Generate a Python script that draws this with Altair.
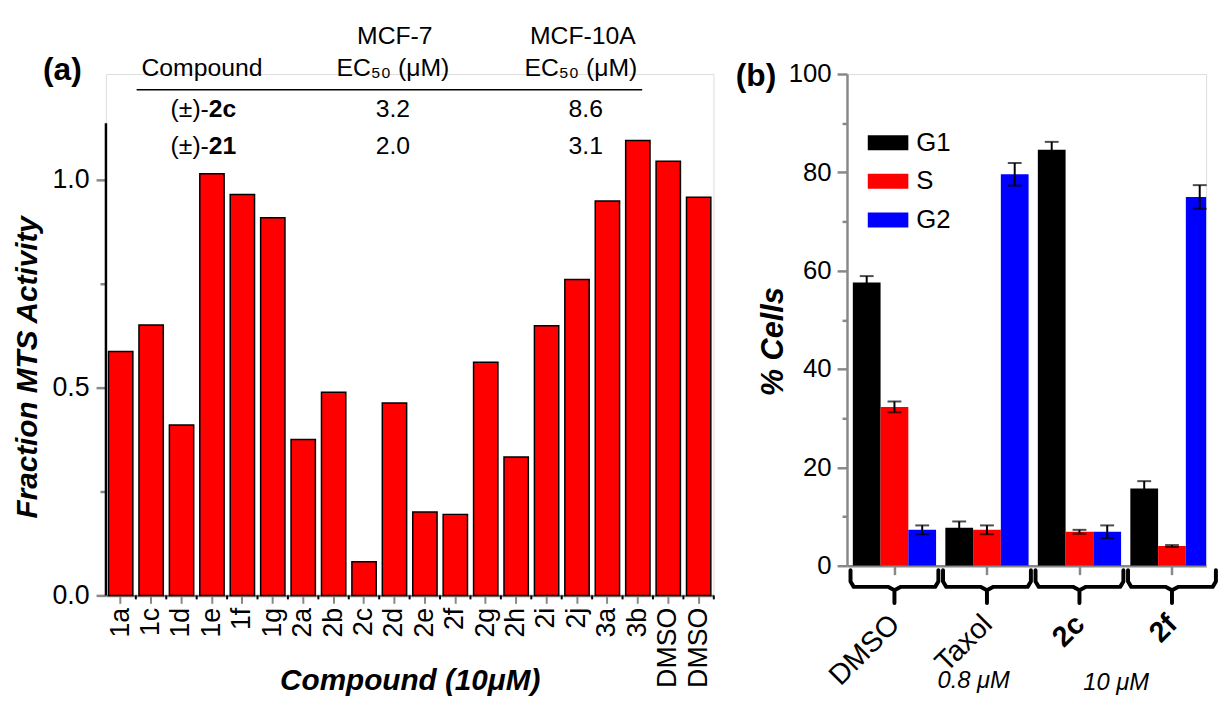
import altair as alt
import pandas as pd

FONT = "Liberation Sans"

# ---------------- Panel (a) data ----------------
compounds = ["1a", "1c", "1d", "1e", "1f", "1g", "2a", "2b", "2c", "2d",
             "2e", "2f", "2g", "2h", "2i", "2j", "3a", "3b", "DMSO", "DMSO"]
mts_activity = [0.587, 0.651, 0.410, 1.015, 0.965, 0.909, 0.375, 0.489, 0.081, 0.463,
                0.201, 0.195, 0.561, 0.333, 0.649, 0.760, 0.949, 1.095, 1.045, 0.958]
a_axis_top = 1.136

table_compounds = ["2c", "21"]
mcf7_ec50 = ["3.2", "2.0"]
mcf10a_ec50 = ["8.6", "3.1"]

# ---------------- Panel (b) data ----------------
treatments = ["DMSO", "Taxol", "2c", "2f"]
phases = ["G1", "S", "G2"]
g1_pct = [57.6, 7.7, 84.6, 15.7]
g1_err = [1.3, 1.3, 1.6, 1.5]
s_pct = [32.3, 7.3, 6.9, 4.0]
s_err = [1.1, 0.9, 0.4, 0.2]
g2_pct = [7.3, 79.6, 6.9, 75.0]
g2_err = [0.9, 2.3, 1.3, 2.4]
phase_colors = ["#000000", "#ff0000", "#0000ff"]
conc_labels = ["0.8 μM", "10 μM"]

# brace shape (offset from group centre, value below the axis)
brace_dx = [-0.475, -0.475, -0.44, -0.07, 0.0, 0.0, 0.0, 0.07, 0.44, 0.475, 0.475]
brace_dy = [-0.9, -3.2, -4.3, -4.3, -5.0, -7.6, -5.0, -4.3, -4.3, -3.2, -0.9]

# ---------------- layout ----------------
WA, HA = 614, 527
YMAX_A = HA / 420.0
WB, HB = 363, 497
XB_DOMAIN = [-0.513, -0.513 + WB / 93.5]
BAR_STEP = 0.3
HALF = 0.15
SPACING = 135
B_OFFSET = WA + SPACING


def txt(s, x, y, size=25, weight="normal", style="normal", align="center"):
    return alt.Chart(pd.DataFrame({"t": [s]})).mark_text(
        font=FONT, fontSize=size, fontWeight=weight, fontStyle=style,
        align=align, baseline="middle", color="black"
    ).encode(text="t:N", x=alt.value(x), y=alt.value(y))


# ================= Panel (a) =================
dfa = pd.DataFrame({"idx": list(range(len(compounds))), "label": compounds, "value": mts_activity})
label_expr = "[" + ",".join(f"'{c}'" for c in compounds) + "][datum.value]"

xscale_a = alt.Scale(paddingInner=0.2, paddingOuter=0.085)
yscale_a = alt.Scale(domain=[0, YMAX_A], nice=False, zero=True)

xa = alt.X("idx:O", scale=xscale_a, axis=alt.Axis(
    labelExpr=label_expr, labelAngle=-90, labelAlign="right", labelBaseline="middle",
    labelFontSize=27, labelPadding=4, tickSize=8, tickWidth=2, domainWidth=2.5, grid=False,
    title="Compound (10μM)", titleFontSize=30, titleFontStyle="italic", titleFontWeight="bold",
    titleX=307, titleY=86, titleBaseline="middle", titleAlign="center"))

ya = alt.Y("value:Q", scale=yscale_a, axis=alt.Axis(
    values=[0, 0.25, 0.5, 0.75, 1.0], format=".1f", grid=False,
    labelExpr="datum.value % 0.5 == 0 ? datum.label : ''",
    domain=False, tickSize={"condition": {"test": "datum.value % 0.5 == 0", "value": 10}, "value": 6},
    tickWidth=2.5, labelFontSize=27, labelPadding=7,
    title="Fraction MTS Activity", titleFontSize=30, titleFontStyle="italic", titleFontWeight="bold",
    titleX=-79, titleY=296, titleBaseline="middle", titleAlign="center", titleAngle=270))

bars_a = alt.Chart(dfa).mark_bar(color="#ff0000", stroke="black", strokeWidth=1.5).encode(x=xa, y=ya)

minor_a = alt.Chart(dfa).mark_rule(color="black", strokeWidth=2, xOffset=3).encode(
    x=alt.X("idx:O", bandPosition=1, title="Compound (10μM)"),
    y=alt.value(HA), y2=alt.value(HA + 4))

yline_a = alt.Chart(pd.DataFrame({"d": [0]})).mark_rule(color="black", strokeWidth=2.5).encode(
    x=alt.value(0), y=alt.datum(0), y2=alt.datum(a_axis_top))

table_layers = [
    txt("(a)", -44, -4, size=32, weight="bold"),
    txt("Compound", 97, -6),
    txt("MCF-7", 292, -38),
    txt("EC₅₀ (μM)", 290, -6),
    txt("MCF-10A", 482, -38),
    txt("EC₅₀ (μM)", 480, -6),
    alt.Chart(pd.DataFrame({"d": [0]})).mark_rule(color="black", strokeWidth=1.5).encode(
        x=alt.value(31), x2=alt.value(542), y=alt.value(16)),
]
row_y = [35, 73]
for i in range(len(table_compounds)):
    table_layers += [
        txt("(±)-", 104, row_y[i], align="right"),
        txt(table_compounds[i], 104, row_y[i], weight="bold", align="left"),
        txt(mcf7_ec50[i], 290, row_y[i]),
        txt(mcf10a_ec50[i], 485, row_y[i]),
    ]

panel_a = alt.layer(bars_a, minor_a, yline_a, *table_layers).properties(width=WA, height=HA)

# ================= Panel (b) =================
rows = []
for gi, t in enumerate(treatments):
    for pi_, (ph, vals, errs) in enumerate(zip(phases, [g1_pct, s_pct, g2_pct], [g1_err, s_err, g2_err])):
        c = gi + (pi_ - 1) * BAR_STEP
        rows.append(dict(treat=t, phase=ph, x=c, x0=c - HALF, x1=c + HALF, v=vals[gi],
                         lo=vals[gi] - errs[gi], hi=vals[gi] + errs[gi]))
dfb = pd.DataFrame(rows)

brace_rows = []
for gi, t in enumerate(treatments):
    for k, (dx, dy) in enumerate(zip(brace_dx, brace_dy)):
        brace_rows.append(dict(treat=t, k=k, bx=gi + dx, by=dy))
dfbr = pd.DataFrame(brace_rows)

xscale_b = alt.Scale(domain=XB_DOMAIN, nice=False, zero=False)
yscale_b = alt.Scale(domain=[0, 100], nice=False)
names_expr = "[" + ",".join(f"'{t}'" for t in treatments) + "][datum.value]"
YB_TITLE = "% Cells"

xb_axis = alt.Axis(values=[0, 1, 2, 3], labelExpr=names_expr, labelAngle=-45, labelAlign="right",
                   labelBaseline="middle", labelFontSize=29, labelPadding=45, tickSize=9, tickWidth=2.5,
                   domainWidth=2.5, title=None, grid=False,
                   labelFontWeight={"condition": {"test": "datum.value >= 2", "value": "bold"}, "value": "normal"})
yb_axis = alt.Axis(values=list(range(0, 101, 10)), grid=False,
                   labelExpr="datum.value % 20 == 0 ? datum.label : ''",
                   tickSize={"condition": {"test": "datum.value % 20 == 0", "value": 10}, "value": 5},
                   tickWidth=2.5, domainWidth=2.5, labelFontSize=26, labelPadding=6,
                   title=YB_TITLE, titleFontSize=31, titleFontStyle="italic", titleFontWeight="bold",
                   titleX=-74, titleY=270, titleBaseline="middle", titleAlign="center", titleAngle=270)

bars_b = alt.Chart(dfb).mark_bar(clip=True).encode(
    x=alt.X("x0:Q", scale=xscale_b, axis=xb_axis),
    x2="x1:Q",
    y=alt.Y("v:Q", scale=yscale_b, axis=yb_axis),
    y2=alt.datum(0),
    color=alt.Color("phase:N", scale=alt.Scale(domain=phases, range=phase_colors),
                    legend=alt.Legend(title=None, orient="none", legendX=B_OFFSET + 21, legendY=49,
                                      symbolType="M-1,-0.37L1,-0.37L1,0.37L-1,0.37Z",
                                      symbolSize=1681, symbolStrokeWidth=0, labelFontSize=26,
                                      labelFont=FONT, labelColor="black", labelOffset=8,
                                      rowPadding=5)))

err_rule = alt.Chart(dfb).mark_rule(color="black", strokeWidth=2).encode(
    x=alt.X("x:Q", title=None), y=alt.Y("lo:Q", title=YB_TITLE), y2="hi:Q")
cap_hi = alt.Chart(dfb).mark_tick(color="black", thickness=2, size=14, orient="horizontal").encode(
    x=alt.X("x:Q", title=None), y=alt.Y("hi:Q", title=YB_TITLE))
cap_lo = alt.Chart(dfb).mark_tick(color="black", thickness=2, size=14, orient="horizontal").encode(
    x=alt.X("x:Q", title=None), y=alt.Y("lo:Q", title=YB_TITLE))

braces = alt.Chart(dfbr).mark_line(color="black", strokeWidth=4, strokeJoin="round", strokeCap="round").encode(
    x=alt.X("bx:Q", title=None), y=alt.Y("by:Q", title=YB_TITLE), detail="treat:N", order="k:Q")

b_texts = [
    txt("(b)", -92, 2, size=32, weight="bold"),
    txt(conc_labels[0], 128, 614, size=24, style="italic"),
    txt(conc_labels[1], 272, 616, size=24, style="italic"),
]

panel_b = alt.layer(bars_b, err_rule, cap_hi, cap_lo, braces, *b_texts).properties(width=WB, height=HB)

chart = alt.hconcat(panel_a, panel_b, spacing=SPACING, bounds="flush").properties(
    padding={"left": 4, "top": 12, "right": 0, "bottom": 0}
).configure_view(stroke=None).configure_axis(
    grid=False, domainColor="black", tickColor="black", labelColor="black", titleColor="black",
    labelFont=FONT, titleFont=FONT
).configure(background="white")

chart.save("out.html", embed_options={"renderer": "svg", "actions": False})
